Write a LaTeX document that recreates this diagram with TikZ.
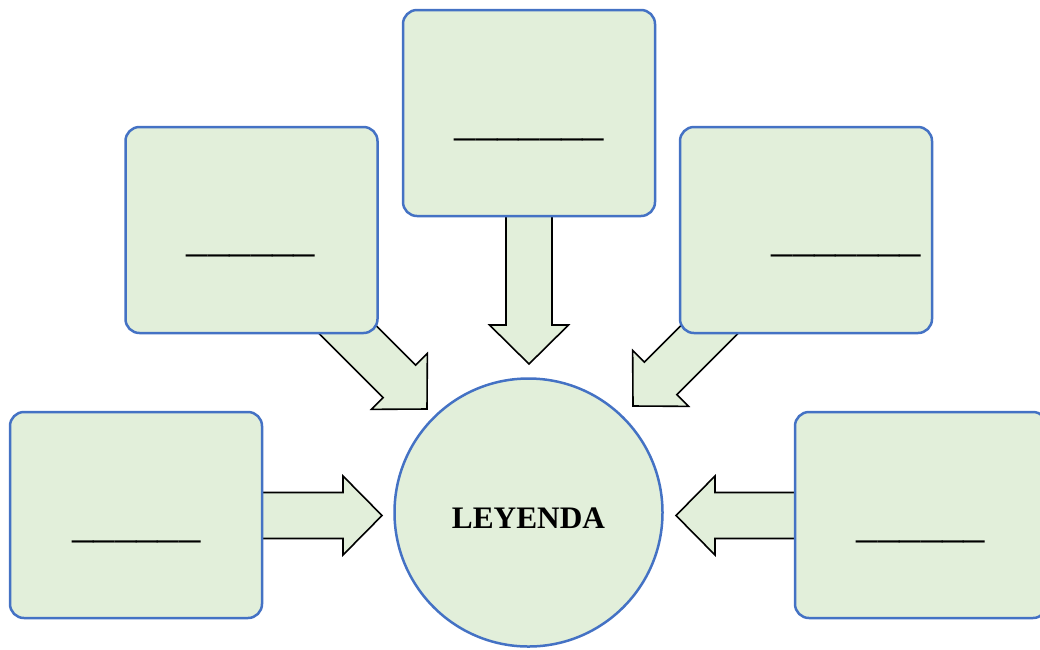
\documentclass[tikz,border=0pt]{standalone}
\usepackage{fontspec}
\setmainfont{Liberation Serif}
\usetikzlibrary{positioning}

\definecolor{boxgreen}{HTML}{E2EFDA}
\definecolor{boxblue}{HTML}{4472C4}

\tikzset{
    box/.style={rectangle, rounded corners=14pt, draw=boxblue, line width=2.5pt,
        fill=boxgreen, minimum width=252pt, minimum height=206pt, inner sep=0pt},
    legend/.style={circle, draw=boxblue, line width=2.5pt, fill=boxgreen,
        minimum size=268pt, inner sep=0pt},
    blank/.style={anchor=base, inner sep=0pt, font=\fontsize{42.7}{48}\selectfont},
    arrowbox/.style={draw=black, line width=1.6pt, fill=boxgreen, line join=miter},
}

% block arrow: tip, direction, length
\newcommand{\blockarrow}[3]{%
    \begin{scope}[shift={(#1)}, rotate=#2]
        \draw[arrowbox] (0,0) -- (-39,39.5) -- (-39,23) -- (-#3,23)
            -- (-#3,-23) -- (-39,-23) -- (-39,-39.5) -- cycle;
    \end{scope}}

\begin{document}
\begin{tikzpicture}[x=1pt, y=-1pt]
            \clip (0,0) rectangle (1040,649);

            % arrow tips
            \coordinate (tipN)  at (529,364);
            \coordinate (tipNW) at (427,409);
            \coordinate (tipNE) at (633,406);
            \coordinate (tipW)  at (382,515.5);
            \coordinate (tipE)  at (676,515.5);

            \blockarrow{tipN}{-90}{160}
            \blockarrow{tipNW}{-45}{150}
            \blockarrow{tipNE}{-135}{150}
            \blockarrow{tipW}{0}{130}
            \blockarrow{tipE}{180}{140}

            \node[box] (top)      at (529,113)   {};
            \node[box] (lefttop)  at (251.5,230) {};
            \node[box] (righttop) at (806,230)   {};
            \node[box] (leftbot)  at (136,515)   {};
            \node[box] (rightbot) at (921,515)   {};

            \node[legend] (leyenda) at (528.5,512.5) {};
            \node[anchor=base, inner sep=0pt, font=\bfseries\fontsize{31.3}{36}\selectfont]
                (title) at (528.5,528) {LEYENDA};

            \node[blank] (blanktop)      at (529.5,135.7) {\_\_\_\_\_\_\_};
            \node[blank] (blanklefttop)  at (251,251.7)   {\_\_\_\_\_\_};
            \node[blank] (blankrighttop) at (846.5,251.7) {\_\_\_\_\_\_\_};
            \node[blank] (blankleftbot)  at (136.5,537.2) {\_\_\_\_\_\_};
            \node[blank] (blankrightbot) at (921,537.2)   {\_\_\_\_\_\_};
        \end{tikzpicture}
\end{document}
